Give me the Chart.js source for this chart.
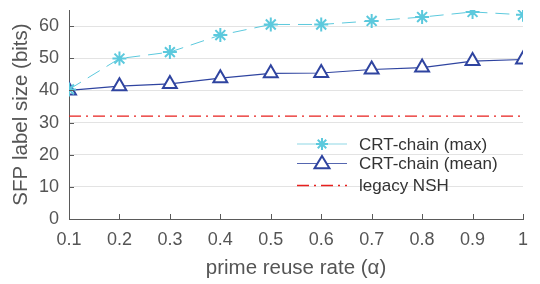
<!DOCTYPE html>
<html>
<head>
<meta charset="utf-8">
<script src="https://cdn.jsdelivr.net/npm/chart.js@4.4.1/dist/chart.umd.min.js"></script>
<style>
html,body{margin:0;padding:0;background:#fff;}
#wrap{width:540px;height:284px;position:relative;}
</style>
</head>
<body>
<div id="wrap"><canvas id="c" width="540" height="284"></canvas></div>
<script>
const alphaValues = [0.1, 0.2, 0.3, 0.4, 0.5, 0.6, 0.7, 0.8, 0.9, 1.0];
const crtMax = [40.3, 49.9, 51.9, 57.2, 60.5, 60.5, 61.6, 62.8, 64.4, 63.5];
const crtMean = [40.0, 41.3, 42.0, 43.8, 45.3, 45.4, 46.5, 47.1, 49.1, 49.6];
const legacyNSH = [32, 32, 32, 32, 32, 32, 32, 32, 32, 32];
const seriesLabels = ['CRT-chain (max)', 'CRT-chain (mean)', 'legacy NSH'];
const yTicks = [0, 10, 20, 30, 40, 50, 60];
const xTicks = [0.1, 0.2, 0.3, 0.4, 0.5, 0.6, 0.7, 0.8, 0.9, 1];

const FONT = "'Liberation Sans', Arial, sans-serif";
const TXT = '#555555';
const AXIS = '#5a5a5a';
const CYAN = '#5cc9dd';
const BLUE = '#2f44a0';
const RED = '#e8201e';

const toXY = arr => arr.map((v, i) => ({x: alphaValues[i], y: v}));

function drawMarker(ctx, style, x, y, r, stroke, fill, lw) {
  ctx.save();
  ctx.strokeStyle = stroke; ctx.fillStyle = fill; ctx.lineWidth = lw; ctx.setLineDash([]);
  ctx.beginPath();
  if (style === 'triangle') {
    ctx.moveTo(x, y - r);
    ctx.lineTo(x + r * 0.866 * 1.15, y + r * 0.5 + 1);
    ctx.lineTo(x - r * 0.866 * 1.15, y + r * 0.5 + 1);
    ctx.closePath();
    ctx.fill(); ctx.stroke();
  } else {
    for (let k = 0; k < 4; k++) {
      const a = k * Math.PI / 4;
      ctx.moveTo(x - Math.cos(a) * r, y - Math.sin(a) * r);
      ctx.lineTo(x + Math.cos(a) * r, y + Math.sin(a) * r);
    }
    ctx.stroke();
  }
  ctx.restore();
}

const legendPlugin = {
  id: 'customLegend',
  afterDatasetsDraw(chart) {
    const ctx = chart.ctx;
    const x0 = 297, x1 = 347, tx = 359;
    const rows = [
      {y: 144, color: '#8fd8e6', dash: [], lw: 1.2, marker: 'star', mcolor: CYAN, label: seriesLabels[0]},
      {y: 163.5, color: '#5566b0', dash: [], lw: 1.2, marker: 'triangle', mcolor: BLUE, label: seriesLabels[1]},
      {y: 185.5, color: RED, dash: [12, 5, 2, 5], lw: 1.4, marker: null, label: seriesLabels[2]}
    ];
    rows.forEach(r => {
      ctx.save();
      ctx.strokeStyle = r.color; ctx.lineWidth = r.lw; ctx.setLineDash(r.dash);
      ctx.beginPath(); ctx.moveTo(x0, r.y); ctx.lineTo(x1, r.y); ctx.stroke();
      ctx.restore();
      if (r.marker === 'star') drawMarker(ctx, 'star', 322, r.y, 6, r.mcolor, r.mcolor, 2);
      if (r.marker === 'triangle') drawMarker(ctx, 'triangle', 322, r.y, 7.5, r.mcolor, '#fff', 2);
      ctx.save();
      ctx.fillStyle = '#333'; ctx.font = '17px ' + FONT; ctx.textBaseline = 'middle'; ctx.textAlign = 'left';
      ctx.fillText(r.label, tx, r.y + 1);
      ctx.restore();
    });
  }
};

const innerTicks = {
  id: 'innerTicks',
  afterDatasetsDraw(chart) {
    const ctx = chart.ctx, xs = chart.scales.x, ys = chart.scales.y, area = chart.chartArea;
    ctx.save();
    ctx.strokeStyle = AXIS; ctx.lineWidth = 1;
    xTicks.forEach(v => {
      const px = Math.round(xs.getPixelForValue(v)) + 0.5;
      ctx.beginPath(); ctx.moveTo(px, area.bottom); ctx.lineTo(px, area.bottom - 5); ctx.stroke();
    });
    yTicks.forEach(v => {
      const py = Math.round(ys.getPixelForValue(v)) + 0.5;
      ctx.beginPath(); ctx.moveTo(area.left, py); ctx.lineTo(area.left + 5, py); ctx.stroke();
    });
    ctx.restore();
  }
};

new Chart(document.getElementById('c'), {
  type: 'line',
  data: {
    datasets: [
      {
        label: seriesLabels[2], data: toXY(legacyNSH), borderColor: RED, borderWidth: 1.4,
        borderDash: [12, 5, 2, 5], pointRadius: 0, fill: false, order: 3
      },
      {
        label: seriesLabels[1], data: toXY(crtMean), borderColor: BLUE, borderWidth: 1.2,
        pointStyle: 'triangle', pointRadius: 8, pointBorderWidth: 2, pointBackgroundColor: '#ffffff',
        pointBorderColor: BLUE, fill: false, order: 2
      },
      {
        label: seriesLabels[0], data: toXY(crtMax), borderColor: CYAN, borderWidth: 1,
        borderDash: [14, 8], pointStyle: 'star', pointRadius: 7, pointBorderWidth: 2,
        pointBorderColor: CYAN, pointBackgroundColor: CYAN, fill: false, order: 1
      }
    ]
  },
  options: {
    responsive: false,
    animation: false,
    layout: {padding: {left: 0, right: 17, top: 4, bottom: 0}},
    plugins: {legend: {display: false}, tooltip: {enabled: false}},
    scales: {
      x: {
        type: 'linear', min: 0.1, max: 1,
        afterBuildTicks: s => { s.ticks = xTicks.map(v => ({value: v})); },
        afterFit: s => { s.height = 65; s.paddingLeft = 0; s.paddingRight = 0; },
        grid: {display: false, drawTicks: false},
        border: {display: true, color: AXIS, width: 1},
        ticks: {
          color: TXT, font: {family: FONT, size: 18}, padding: 10, maxRotation: 0,
          callback: v => (Math.abs(v - 1) < 1e-9 ? '1' : v.toFixed(1))
        },
        title: {display: true, text: 'prime reuse rate (α)', color: TXT, font: {family: FONT, size: 20.5}, padding: {top: 2, bottom: 3}}
      },
      y: {
        min: 0, max: 65,
        afterBuildTicks: s => { s.ticks = yTicks.map(v => ({value: v})); },
        afterFit: s => { s.width = 69; s.paddingTop = 0; s.paddingBottom = 0; },
        grid: {color: '#e3e3e3', lineWidth: 1, drawTicks: false},
        border: {display: true, color: AXIS, width: 1},
        ticks: {color: TXT, font: {family: FONT, size: 18}, padding: 10},
        title: {display: true, text: 'SFP label size (bits)', color: TXT, font: {family: FONT, size: 20.5}, padding: {top: 9, bottom: 2}}
      }
    }
  },
  plugins: [innerTicks, legendPlugin]
});
</script>
</body>
</html>
